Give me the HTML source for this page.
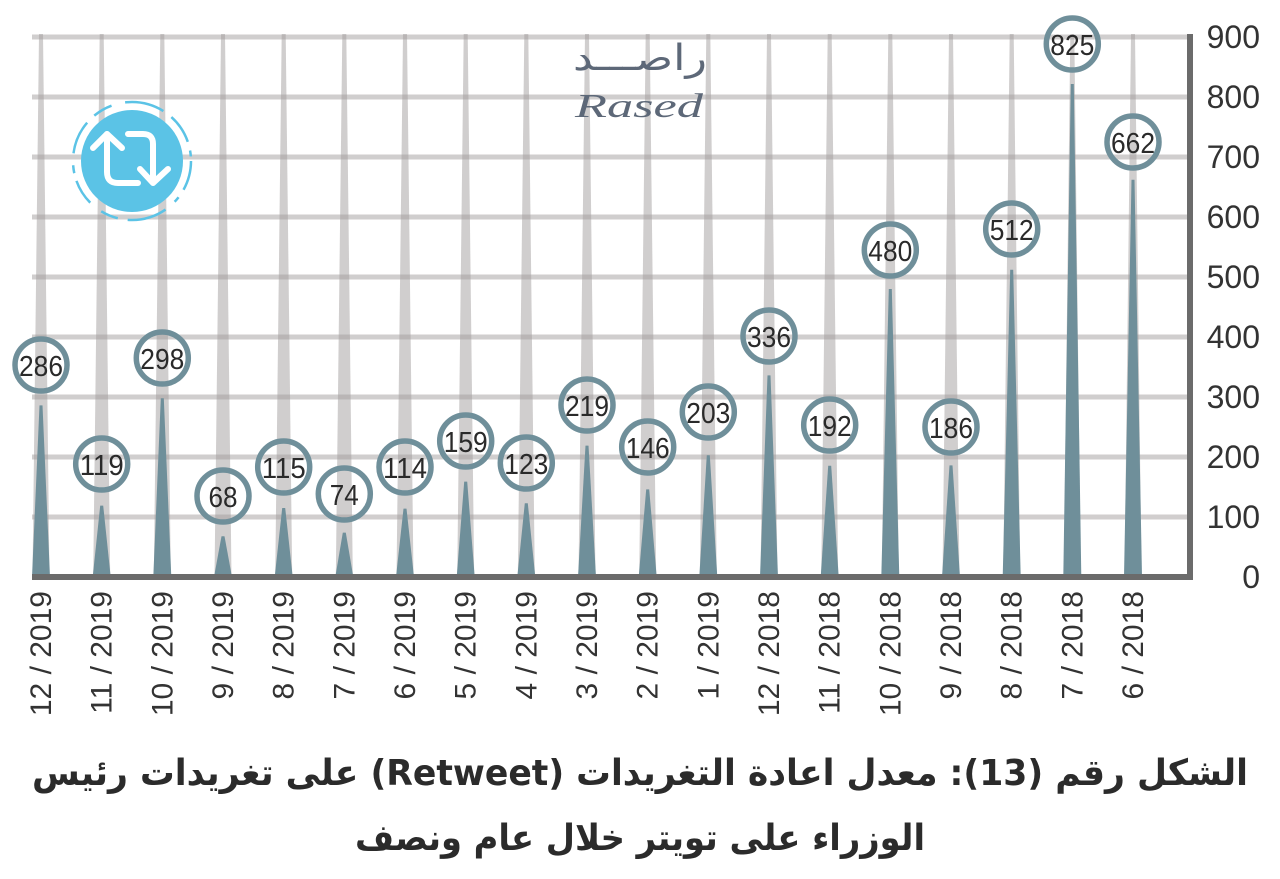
<!DOCTYPE html>
<html>
<head>
<meta charset="utf-8">
<style>
html,body{margin:0;padding:0;background:#fff;}
body{width:1280px;height:879px;overflow:hidden;}
svg{display:block;}
</style>
</head>
<body>
<svg width="1280" height="879" viewBox="0 0 1280 879" xmlns="http://www.w3.org/2000/svg">
<rect width="1280" height="879" fill="#ffffff"/>

<!-- horizontal gridlines -->
<g fill="#a39e9e" opacity="0.5">
  <rect x="32" y="34.5" width="1158" height="5"/>
  <rect x="32" y="94.5" width="1158" height="5"/>
  <rect x="32" y="154.5" width="1158" height="5"/>
  <rect x="32" y="214.5" width="1158" height="5"/>
  <rect x="32" y="274.5" width="1158" height="5"/>
  <rect x="32" y="334.5" width="1158" height="5"/>
  <rect x="32" y="394.5" width="1158" height="5"/>
  <rect x="32" y="454.5" width="1158" height="5"/>
  <rect x="32" y="514.5" width="1158" height="5"/>
</g>

<!-- vertical tapered gridlines -->
<g fill="#a39e9e" opacity="0.5">
  <polygon points="39,34 43,34 49.5,577 32.5,577"/>
  <polygon points="99.7,34 103.7,34 110.2,577 93.2,577"/>
  <polygon points="160.3,34 164.3,34 170.8,577 153.8,577"/>
  <polygon points="221,34 225,34 231.5,577 214.5,577"/>
  <polygon points="281.7,34 285.7,34 292.2,577 275.2,577"/>
  <polygon points="342.3,34 346.3,34 352.8,577 335.8,577"/>
  <polygon points="403,34 407,34 413.5,577 396.5,577"/>
  <polygon points="463.7,34 467.7,34 474.2,577 457.2,577"/>
  <polygon points="524.3,34 528.3,34 534.8,577 517.8,577"/>
  <polygon points="585,34 589,34 595.5,577 578.5,577"/>
  <polygon points="645.7,34 649.7,34 656.2,577 639.2,577"/>
  <polygon points="706.3,34 710.3,34 716.8,577 699.8,577"/>
  <polygon points="767,34 771,34 777.5,577 760.5,577"/>
  <polygon points="827.7,34 831.7,34 838.2,577 821.2,577"/>
  <polygon points="888.3,34 892.3,34 898.8,577 881.8,577"/>
  <polygon points="949,34 953,34 959.5,577 942.5,577"/>
  <polygon points="1009.7,34 1013.7,34 1020.2,577 1003.2,577"/>
  <polygon points="1070.3,34 1074.3,34 1080.8,577 1063.8,577"/>
  <polygon points="1131,34 1135,34 1141.5,577 1124.5,577"/>
</g>

<!-- logo Rased -->
<text x="640" y="70" text-anchor="middle" font-family="'DejaVu Sans', sans-serif" font-size="36" fill="#5d6878" textLength="134" lengthAdjust="spacingAndGlyphs" direction="rtl">راصـــد</text>
<text x="639" y="117" text-anchor="middle" font-family="'Liberation Serif', serif" font-style="italic" font-size="34" fill="#5d6878" textLength="128" lengthAdjust="spacingAndGlyphs">Rased</text>

<!-- retweet icon -->
<g>
  <circle cx="132" cy="161" r="59" fill="none" stroke="#5bc3e6" stroke-width="2.5" stroke-dasharray="30 9 6 12 40 10 18 14 26 8 8 12 34 10 20 14 40 10"/>
  <circle cx="132" cy="161" r="51" fill="#5bc3e6"/>
  <g fill="none" stroke="#ffffff" stroke-width="6" stroke-linecap="round" stroke-linejoin="round">
    <polyline points="93,148 107,134 122,148"/>
    <path d="M107,134 V172 Q107,183 118,183 H138"/>
    <path d="M128,134 H143 Q153,134 153,144 V182"/>
    <polyline points="140,169 153,183 168,169"/>
  </g>
</g>

<!-- spikes -->
<g fill="#6f8f9a">
  <polygon points="32,577 39.5,405.4 42.5,405.4 50,577"/>
  <polygon points="92.7,577 100.2,505.6 103.2,505.6 110.7,577"/>
  <polygon points="153.3,577 160.8,398.2 163.8,398.2 171.3,577"/>
  <polygon points="214,577 221.5,536.2 224.5,536.2 232,577"/>
  <polygon points="274.7,577 282.2,508 285.2,508 292.7,577"/>
  <polygon points="335.3,577 342.8,532.6 345.8,532.6 353.3,577"/>
  <polygon points="396,577 403.5,508.6 406.5,508.6 414,577"/>
  <polygon points="456.7,577 464.2,481.6 467.2,481.6 474.7,577"/>
  <polygon points="517.3,577 524.8,503.2 527.8,503.2 535.3,577"/>
  <polygon points="578,577 585.5,445.6 588.5,445.6 596,577"/>
  <polygon points="638.7,577 646.2,489.4 649.2,489.4 656.7,577"/>
  <polygon points="699.3,577 706.8,455.2 709.8,455.2 717.3,577"/>
  <polygon points="760,577 767.5,375.4 770.5,375.4 778,577"/>
  <polygon points="820.7,577 828.2,465.8 831.2,465.8 838.7,577"/>
  <polygon points="881.3,577 888.8,289 891.8,289 899.3,577"/>
  <polygon points="942,577 949.5,465.4 952.5,465.4 960,577"/>
  <polygon points="1002.7,577 1010.2,269.8 1013.2,269.8 1020.7,577"/>
  <polygon points="1063.3,577 1070.8,84 1073.8,84 1081.3,577"/>
  <polygon points="1124,577 1131.5,179.8 1134.5,179.8 1142,577"/>
</g>

<!-- axes -->
<rect x="1187" y="34" width="6" height="546" fill="#6b6b6b"/>
<rect x="32" y="574" width="1161" height="6" fill="#6b6b6b"/>

<!-- circles -->
<g fill="none" stroke="#6f8f9a" stroke-width="5.5">
  <circle cx="41" cy="365" r="26"/>
  <circle cx="101.7" cy="464" r="26"/>
  <circle cx="162.3" cy="358" r="26"/>
  <circle cx="223" cy="496" r="26"/>
  <circle cx="283.7" cy="467" r="26"/>
  <circle cx="344.3" cy="494" r="26"/>
  <circle cx="405" cy="467" r="26"/>
  <circle cx="465.7" cy="441" r="26"/>
  <circle cx="526.3" cy="463" r="26"/>
  <circle cx="587" cy="405" r="26"/>
  <circle cx="647.7" cy="447" r="26"/>
  <circle cx="708.3" cy="412" r="26"/>
  <circle cx="769" cy="336" r="26"/>
  <circle cx="829.7" cy="425" r="26"/>
  <circle cx="890.3" cy="250" r="26"/>
  <circle cx="951" cy="427" r="26"/>
  <circle cx="1011.7" cy="229" r="26"/>
  <circle cx="1072.3" cy="44" r="26"/>
  <circle cx="1133" cy="142" r="26"/>
</g>

<!-- circle labels -->
<g font-family="'Liberation Sans', sans-serif" font-size="29" fill="#2a2a2a" text-anchor="middle" lengthAdjust="spacingAndGlyphs">
  <text x="41" y="376" textLength="44" lengthAdjust="spacingAndGlyphs">286</text>
  <text x="101.7" y="475" textLength="44" lengthAdjust="spacingAndGlyphs">119</text>
  <text x="162.3" y="369" textLength="44" lengthAdjust="spacingAndGlyphs">298</text>
  <text x="223" y="507" textLength="29" lengthAdjust="spacingAndGlyphs">68</text>
  <text x="283.7" y="478" textLength="44" lengthAdjust="spacingAndGlyphs">115</text>
  <text x="344.3" y="505" textLength="29" lengthAdjust="spacingAndGlyphs">74</text>
  <text x="405" y="478" textLength="44" lengthAdjust="spacingAndGlyphs">114</text>
  <text x="465.7" y="452" textLength="44" lengthAdjust="spacingAndGlyphs">159</text>
  <text x="526.3" y="474" textLength="44" lengthAdjust="spacingAndGlyphs">123</text>
  <text x="587" y="416" textLength="44" lengthAdjust="spacingAndGlyphs">219</text>
  <text x="647.7" y="458" textLength="44" lengthAdjust="spacingAndGlyphs">146</text>
  <text x="708.3" y="423" textLength="44" lengthAdjust="spacingAndGlyphs">203</text>
  <text x="769" y="347" textLength="44" lengthAdjust="spacingAndGlyphs">336</text>
  <text x="829.7" y="436" textLength="44" lengthAdjust="spacingAndGlyphs">192</text>
  <text x="890.3" y="261" textLength="44" lengthAdjust="spacingAndGlyphs">480</text>
  <text x="951" y="438" textLength="44" lengthAdjust="spacingAndGlyphs">186</text>
  <text x="1011.7" y="240" textLength="44" lengthAdjust="spacingAndGlyphs">512</text>
  <text x="1072.3" y="55" textLength="44" lengthAdjust="spacingAndGlyphs">825</text>
  <text x="1133" y="153" textLength="44" lengthAdjust="spacingAndGlyphs">662</text>
</g>

<!-- y tick labels -->
<g font-family="'Liberation Sans', sans-serif" font-size="32" fill="#333" text-anchor="end">
  <text x="1260" y="48">900</text>
  <text x="1260" y="108">800</text>
  <text x="1260" y="168">700</text>
  <text x="1260" y="228">600</text>
  <text x="1260" y="288">500</text>
  <text x="1260" y="348">400</text>
  <text x="1260" y="408">300</text>
  <text x="1260" y="468">200</text>
  <text x="1260" y="528">100</text>
  <text x="1260" y="588">0</text>
</g>

<!-- x labels -->
<g font-family="'Liberation Sans', sans-serif" font-size="30" fill="#333" text-anchor="end">
  <text transform="translate(51,591) rotate(-90)">12 / 2019</text>
  <text transform="translate(111.7,591) rotate(-90)">11 / 2019</text>
  <text transform="translate(172.3,591) rotate(-90)">10 / 2019</text>
  <text transform="translate(233,591) rotate(-90)">9 / 2019</text>
  <text transform="translate(293.7,591) rotate(-90)">8 / 2019</text>
  <text transform="translate(354.3,591) rotate(-90)">7 / 2019</text>
  <text transform="translate(415,591) rotate(-90)">6 / 2019</text>
  <text transform="translate(475.7,591) rotate(-90)">5 / 2019</text>
  <text transform="translate(536.3,591) rotate(-90)">4 / 2019</text>
  <text transform="translate(597,591) rotate(-90)">3 / 2019</text>
  <text transform="translate(657.7,591) rotate(-90)">2 / 2019</text>
  <text transform="translate(718.3,591) rotate(-90)">1 / 2019</text>
  <text transform="translate(779,591) rotate(-90)">12 / 2018</text>
  <text transform="translate(839.7,591) rotate(-90)">11 / 2018</text>
  <text transform="translate(900.3,591) rotate(-90)">10 / 2018</text>
  <text transform="translate(961,591) rotate(-90)">9 / 2018</text>
  <text transform="translate(1021.7,591) rotate(-90)">8 / 2018</text>
  <text transform="translate(1082.3,591) rotate(-90)">7 / 2018</text>
  <text transform="translate(1143,591) rotate(-90)">6 / 2018</text>
</g>

<!-- title -->
<g font-family="'DejaVu Sans', sans-serif" font-weight="bold" font-size="36" fill="#2b2b2b" text-anchor="middle">
  <text x="640" y="785" textLength="1216" lengthAdjust="spacingAndGlyphs" direction="rtl" unicode-bidi="embed">الشكل رقم (13): معدل اعادة التغريدات (Retweet) على تغريدات رئيس</text>
  <text x="640" y="850" textLength="570" lengthAdjust="spacingAndGlyphs" direction="rtl" unicode-bidi="embed">الوزراء على تويتر خلال عام ونصف</text>
</g>
</svg>
</body>
</html>
